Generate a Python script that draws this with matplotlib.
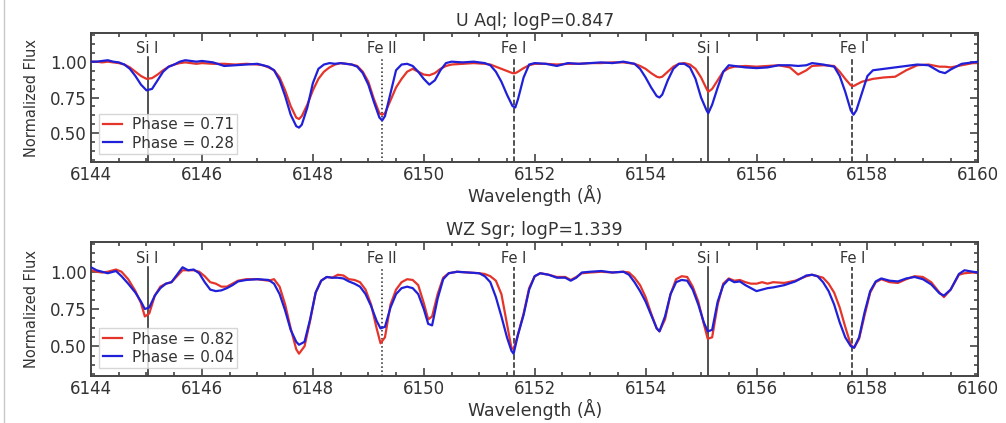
import numpy as np
from matplotlib import pyplot as plt
from matplotlib.ticker import MultipleLocator, AutoMinorLocator
from matplotlib.lines import Line2D

plt.rcParams['font.family'] = ['DejaVu Sans']

# U Aql spectrum (top panel)
u_wave = [6144.00, 6144.10, 6144.20, 6144.30, 6144.40, 6144.50, 6144.60, 6144.70, 6144.80, 6144.90,
          6145.00, 6145.10, 6145.20, 6145.30, 6145.40, 6145.50, 6145.60, 6145.70, 6145.80, 6145.90,
          6146.00, 6146.20, 6146.40, 6146.60, 6146.80, 6147.00, 6147.10, 6147.20, 6147.30, 6147.40,
          6147.50, 6147.60, 6147.70, 6147.75, 6147.80, 6147.90, 6148.00, 6148.10, 6148.20, 6148.30,
          6148.40, 6148.50, 6148.60, 6148.70, 6148.80, 6148.90, 6149.00, 6149.10, 6149.20, 6149.25,
          6149.30, 6149.40, 6149.50, 6149.60, 6149.70, 6149.80, 6149.90, 6150.00, 6150.10, 6150.20,
          6150.30, 6150.40, 6150.50, 6150.70, 6150.90, 6151.10, 6151.20, 6151.30, 6151.40, 6151.50,
          6151.60, 6151.65, 6151.70, 6151.80, 6151.90, 6152.00, 6152.20, 6152.40, 6152.60, 6152.80,
          6153.00, 6153.20, 6153.40, 6153.60, 6153.80, 6153.90, 6154.00, 6154.10, 6154.20, 6154.25,
          6154.30, 6154.40, 6154.50, 6154.60, 6154.70, 6154.80, 6154.90, 6155.00, 6155.10, 6155.13,
          6155.20, 6155.30, 6155.40, 6155.50, 6155.60, 6155.80, 6156.00, 6156.20, 6156.40, 6156.60,
          6156.75, 6156.90, 6157.00, 6157.20, 6157.40, 6157.50, 6157.60, 6157.70, 6157.75, 6157.80,
          6157.90, 6158.00, 6158.10, 6158.30, 6158.50, 6158.70, 6158.90, 6159.10, 6159.30, 6159.40,
          6159.50, 6159.70, 6159.90, 6160.00]
u_red = [1.000, 1.000, 0.995, 1.000, 0.995, 0.990, 0.980, 0.960, 0.930, 0.900,
         0.880, 0.885, 0.910, 0.940, 0.965, 0.980, 0.990, 0.995, 0.990, 0.985,
         0.990, 0.985, 0.985, 0.980, 0.985, 0.980, 0.975, 0.960, 0.940, 0.890,
         0.800, 0.690, 0.610, 0.600, 0.620, 0.700, 0.800, 0.880, 0.930, 0.960,
         0.980, 0.990, 0.985, 0.980, 0.970, 0.930, 0.860, 0.740, 0.640, 0.630,
         0.640, 0.730, 0.820, 0.880, 0.930, 0.950, 0.930, 0.910, 0.905, 0.920,
         0.950, 0.970, 0.980, 0.985, 0.990, 0.985, 0.980, 0.965, 0.950, 0.935,
         0.920, 0.920, 0.930, 0.955, 0.975, 0.985, 0.985, 0.980, 0.985, 0.985,
         0.990, 0.990, 0.995, 0.995, 0.985, 0.970, 0.950, 0.920, 0.895, 0.890,
         0.895, 0.930, 0.965, 0.985, 0.990, 0.980, 0.950, 0.890, 0.810, 0.790,
         0.810, 0.870, 0.930, 0.955, 0.965, 0.970, 0.965, 0.970, 0.975, 0.960,
         0.910, 0.940, 0.970, 0.975, 0.970, 0.930, 0.880, 0.835, 0.830, 0.840,
         0.860, 0.870, 0.880, 0.890, 0.895, 0.940, 0.975, 0.980, 0.965, 0.965,
         0.960, 0.975, 0.990, 0.990]
u_blue = [1.000, 1.000, 1.005, 1.010, 1.000, 0.995, 0.980, 0.950, 0.900, 0.840,
          0.800, 0.810, 0.870, 0.930, 0.965, 0.980, 1.000, 1.010, 1.005, 1.000,
          1.005, 0.995, 0.970, 0.975, 0.980, 0.985, 0.975, 0.965, 0.940, 0.870,
          0.760, 0.630, 0.550, 0.540, 0.560, 0.680, 0.850, 0.950, 0.980, 0.990,
          0.985, 0.990, 0.985, 0.980, 0.965, 0.920, 0.840, 0.720, 0.610, 0.590,
          0.620, 0.780, 0.940, 0.980, 0.985, 0.970, 0.930, 0.880, 0.840, 0.870,
          0.940, 0.990, 1.000, 0.995, 1.000, 0.990, 0.975, 0.930, 0.860, 0.770,
          0.690, 0.680, 0.740, 0.890, 0.980, 0.990, 0.985, 0.970, 0.990, 0.985,
          0.990, 0.995, 0.990, 1.000, 0.985, 0.950, 0.890, 0.820, 0.760, 0.750,
          0.770, 0.870, 0.950, 0.985, 0.985, 0.960, 0.880, 0.750, 0.660, 0.640,
          0.700, 0.820, 0.930, 0.975, 0.970, 0.960, 0.955, 0.960, 0.975, 0.975,
          0.970, 0.975, 0.990, 0.980, 0.965, 0.900, 0.790, 0.660, 0.630, 0.660,
          0.780, 0.900, 0.940, 0.950, 0.960, 0.970, 0.980, 0.975, 0.930, 0.920,
          0.945, 0.985, 0.995, 1.000]

# WZ Sgr spectrum (bottom panel)
w_wave = [6144.00, 6144.10, 6144.20, 6144.30, 6144.45, 6144.55, 6144.67, 6144.80, 6144.90, 6144.97,
          6145.05, 6145.15, 6145.25, 6145.35, 6145.45, 6145.55, 6145.65, 6145.75, 6145.85, 6145.95,
          6146.05, 6146.15, 6146.25, 6146.35, 6146.45, 6146.55, 6146.65, 6146.80, 6147.00, 6147.20,
          6147.30, 6147.40, 6147.50, 6147.60, 6147.70, 6147.75, 6147.85, 6147.95, 6148.05, 6148.15,
          6148.25, 6148.35, 6148.45, 6148.55, 6148.65, 6148.75, 6148.85, 6148.95, 6149.05, 6149.15,
          6149.22, 6149.30, 6149.40, 6149.50, 6149.60, 6149.70, 6149.80, 6149.90, 6150.00, 6150.08,
          6150.15, 6150.25, 6150.35, 6150.45, 6150.60, 6150.80, 6151.00, 6151.10, 6151.20, 6151.30,
          6151.40, 6151.50, 6151.58, 6151.62, 6151.70, 6151.80, 6151.90, 6152.00, 6152.10, 6152.25,
          6152.40, 6152.55, 6152.65, 6152.75, 6152.85, 6153.00, 6153.20, 6153.40, 6153.60, 6153.70,
          6153.80, 6153.90, 6154.00, 6154.10, 6154.20, 6154.25, 6154.35, 6154.45, 6154.55, 6154.65,
          6154.75, 6154.85, 6154.95, 6155.05, 6155.12, 6155.20, 6155.30, 6155.40, 6155.50, 6155.60,
          6155.70, 6155.80, 6155.90, 6156.00, 6156.10, 6156.20, 6156.30, 6156.50, 6156.70, 6156.90,
          6157.00, 6157.10, 6157.20, 6157.30, 6157.40, 6157.50, 6157.60, 6157.70, 6157.76, 6157.85,
          6157.95, 6158.05, 6158.15, 6158.25, 6158.40, 6158.55, 6158.70, 6158.85, 6159.00, 6159.15,
          6159.30, 6159.38, 6159.50, 6159.65, 6159.75, 6159.90, 6160.00]
w_red = [1.010, 1.000, 0.995, 1.000, 1.015, 1.000, 0.950, 0.870, 0.790, 0.700,
         0.720, 0.840, 0.900, 0.920, 0.930, 0.970, 1.010, 1.010, 1.010, 1.000,
         0.970, 0.930, 0.920, 0.900, 0.900, 0.920, 0.940, 0.950, 0.950, 0.940,
         0.950, 0.900, 0.780, 0.620, 0.480, 0.450, 0.500, 0.670, 0.860, 0.940,
         0.965, 0.960, 0.980, 0.975, 0.950, 0.945, 0.930, 0.880, 0.780, 0.620,
         0.520, 0.560, 0.780, 0.880, 0.930, 0.950, 0.945, 0.910, 0.790, 0.680,
         0.700, 0.850, 0.960, 0.990, 1.000, 0.995, 0.990, 0.985, 0.970, 0.940,
         0.850, 0.650, 0.490, 0.480, 0.580, 0.720, 0.890, 0.970, 0.990, 0.980,
         0.965, 0.965, 0.945, 0.965, 0.990, 0.995, 1.000, 0.995, 1.000, 0.995,
         0.960, 0.910, 0.830, 0.720, 0.620, 0.600, 0.680, 0.850, 0.950, 0.970,
         0.965, 0.900, 0.800, 0.650, 0.550, 0.560, 0.780, 0.920, 0.955, 0.940,
         0.945, 0.930, 0.920, 0.920, 0.930, 0.920, 0.930, 0.925, 0.940, 0.970,
         0.980, 0.970, 0.960, 0.920, 0.860, 0.760, 0.630, 0.510, 0.490, 0.550,
         0.710, 0.860, 0.930, 0.950, 0.930, 0.925, 0.950, 0.970, 0.965, 0.930,
         0.860, 0.830, 0.880, 0.980, 0.990, 0.995, 0.990]
w_blue = [1.030, 1.010, 1.000, 0.990, 1.005, 0.970, 0.920, 0.860, 0.800, 0.750,
          0.760, 0.840, 0.890, 0.920, 0.930, 0.980, 1.030, 1.010, 1.015, 0.990,
          0.930, 0.880, 0.870, 0.875, 0.890, 0.910, 0.935, 0.945, 0.950, 0.945,
          0.920, 0.850, 0.740, 0.610, 0.530, 0.510, 0.530, 0.680, 0.860, 0.940,
          0.965, 0.960, 0.960, 0.955, 0.935, 0.920, 0.900, 0.850, 0.770, 0.670,
          0.620, 0.630, 0.760, 0.850, 0.890, 0.900, 0.890, 0.850, 0.750, 0.650,
          0.640, 0.820, 0.950, 0.990, 1.000, 0.995, 0.990, 0.970, 0.930, 0.830,
          0.700, 0.560, 0.470, 0.450, 0.580, 0.710, 0.880, 0.970, 0.990, 0.980,
          0.960, 0.960, 0.940, 0.960, 0.995, 1.000, 1.005, 0.995, 1.000, 0.980,
          0.930, 0.870, 0.800, 0.710, 0.620, 0.600, 0.700, 0.850, 0.930, 0.945,
          0.940, 0.880, 0.780, 0.660, 0.600, 0.610, 0.800, 0.910, 0.950, 0.930,
          0.935, 0.910, 0.890, 0.870, 0.880, 0.890, 0.895, 0.910, 0.935, 0.975,
          0.980, 0.970, 0.930, 0.870, 0.780, 0.660, 0.560, 0.500, 0.490, 0.560,
          0.730, 0.870, 0.935, 0.955, 0.940, 0.935, 0.955, 0.965, 0.950, 0.915,
          0.855, 0.840, 0.880, 0.985, 1.010, 1.000, 0.995]

# line identifications
line_pos = [6145.02, 6149.25, 6151.62, 6155.13, 6157.73]
line_names = ['Si I', 'Fe II', 'Fe I', 'Si I', 'Fe I']
line_styles = ['-', ':', '--', '-', '--']

panels = [
    ('U Aql; logP=0.847', u_wave, u_red, u_blue, ['Phase = 0.71', 'Phase = 0.28']),
    ('WZ Sgr; logP=1.339', w_wave, w_red, w_blue, ['Phase = 0.82', 'Phase = 0.04']),
]

red = '#e5352b'
blue = '#2020d8'
txt = '#333333'

fig = plt.figure(figsize=(10.06, 4.23), dpi=100)
fig.add_artist(Line2D([0.004, 0.004], [0, 1], color='#c8c8c8', lw=1, transform=fig.transFigure))

rects = [[0.0905, 0.617, 0.882, 0.305], [0.0905, 0.111, 0.882, 0.317]]

for rect, (title, wave, fr, fb, labs) in zip(rects, panels):
    ax = fig.add_axes(rect)
    for x, name, ls in zip(line_pos, line_names, line_styles):
        ax.plot([x, x], [0.3, 1.03], color='#222222', lw=1.1, ls=ls, zorder=1)
        ax.text(x, 1.04, name, ha='center', va='bottom', fontsize=10.5, color=txt)
    ax.plot(wave, fr, color=red, lw=1.6, label=labs[0], zorder=2)
    ax.plot(wave, fb, color=blue, lw=1.6, label=labs[1], zorder=3)

    ax.set_xlim(6144, 6160)
    ax.set_ylim(0.3, 1.2)
    ax.xaxis.set_major_locator(MultipleLocator(2))
    ax.xaxis.set_minor_locator(AutoMinorLocator(4))
    ax.set_yticks([0.5, 0.75, 1.0])
    ax.set_yticklabels(['0.50', '0.75', '1.00'])
    ax.yaxis.set_minor_locator(AutoMinorLocator(4))
    ax.tick_params(which='both', direction='in', top=True, right=True,
                   colors='#444444', labelcolor=txt, labelsize=12, width=1.2)
    ax.tick_params(which='major', length=6, pad=3)
    ax.tick_params(which='minor', length=3)
    for s in ax.spines.values():
        s.set_color('#444444')
        s.set_linewidth(1.4)

    ax.set_title(title, fontsize=12.5, color=txt, pad=5)
    ax.set_xlabel('Wavelength (Å)', fontsize=12.5, color=txt, labelpad=0.5)
    ax.set_ylabel('Normalized Flux', fontsize=10.5, color=txt, labelpad=8)

    leg = ax.legend(loc='lower left', fontsize=11, handlelength=1.3, handletextpad=0.6,
                    labelspacing=0.2, borderpad=0.25, borderaxespad=0.5,
                    framealpha=0.8, edgecolor='#cccccc', fancybox=False)
    for t in leg.get_texts():
        t.set_color(txt)

plt.savefig('out.png', dpi=100)
